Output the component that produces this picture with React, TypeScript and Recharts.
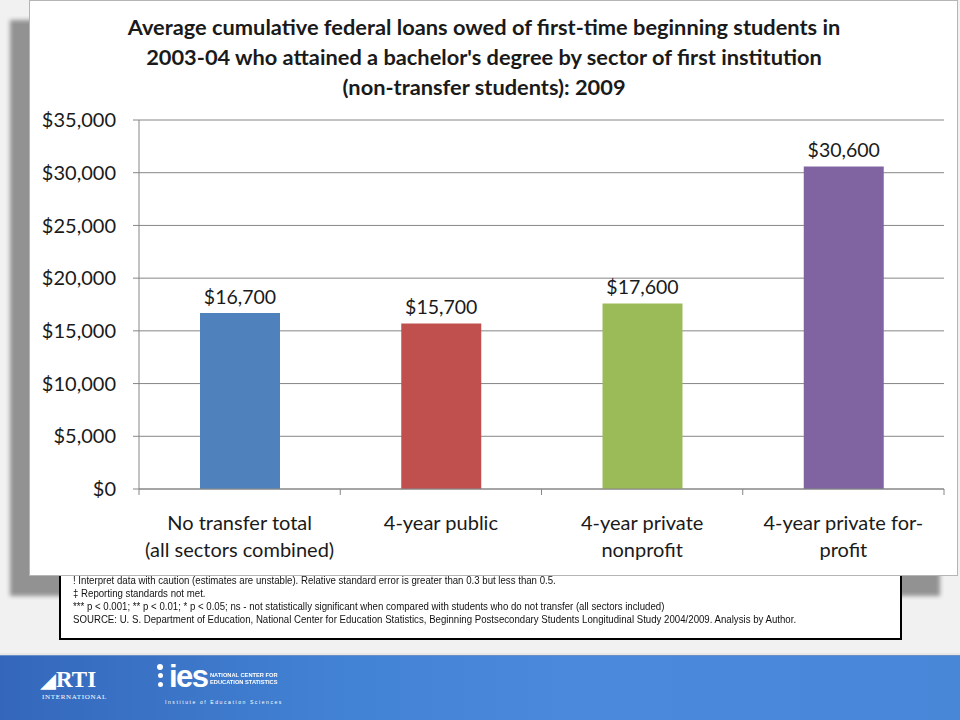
import React from "react";
import { BarChart, Bar, XAxis, YAxis, CartesianGrid, LabelList, Cell } from "recharts";

const categories = [
  ["No transfer total", "(all sectors combined)"],
  ["4-year public"],
  ["4-year private", "nonprofit"],
  ["4-year private for-", "profit"],
];
const loanValues = [16700, 15700, 17600, 30600];
const barColors = ["#4F81BD", "#C0504D", "#9BBB59", "#8064A2"];
const yTicks = [0, 5000, 10000, 15000, 20000, 25000, 30000, 35000];
const titleLines = [
  "Average cumulative federal loans owed of first-time beginning students in",
  "2003-04 who attained a bachelor's degree by sector of first institution",
  "(non-transfer students): 2009",
];
const footnotes = [
  "! Interpret data with caution (estimates are unstable). Relative standard error is greater than 0.3 but less than 0.5.",
  "\u2021 Reporting standards not met.",
  "*** p < 0.001; ** p < 0.01; * p < 0.05; ns - not statistically significant when compared with students who do not transfer (all sectors included)",
  "SOURCE: U. S. Department of Education, National Center for Education Statistics, Beginning Postsecondary Students Longitudinal Study 2004/2009.  Analysis by Author.",
];

const data = categories.map((c, i) => ({ key: c.join(" "), lines: c, value: loanValues[i] }));

const FONT = "Lato, 'Open Sans', sans-serif";
const fmt = (v: number) => "$" + v.toLocaleString("en-US");

const XTick = (props: any) => {
  const { x, y, payload, index } = props;
  const half = payload && payload.offset ? payload.offset : 100.6;
  const lines = data[index] ? data[index].lines : [String(payload.value)];
  return (
    <g>
      <line x1={x - half} x2={x - half} y1={y} y2={y + 6} stroke="#868686" />
      {index === data.length - 1 && <line x1={x + half} x2={x + half} y1={y} y2={y + 6} stroke="#868686" />}
      {lines.map((l: string, k: number) => (
        <text key={k} x={x} y={y + 33 + k * 27} textAnchor="middle" dominantBaseline="central" fontFamily={FONT} fontSize={20} fill="#1a1a1a">
          {l}
        </text>
      ))}
    </g>
  );
};

const Dot = ({ top, size }: { top: number; size: number }) => (
  <div style={{ position: "absolute", left: 160 - size / 2, top, width: size, height: size, borderRadius: "50%", background: "#fff" }} />
);

export default function App() {
  return (
    <div style={{ position: "absolute", left: 0, top: 0, width: 960, height: 720, background: "#f1f1f1", overflow: "hidden" }}>
      {/* shadow */}
      <div style={{ position: "absolute", left: 10, top: 20, width: 930, height: 576, background: "#929292", filter: "blur(2px)" }} />
      {/* footnote box */}
      <div style={{ position: "absolute", left: 59, top: 540, width: 839, height: 96, background: "#ffffff", border: "2px solid #000" }} />
      <div style={{ position: "absolute", left: 73, top: 574, fontFamily: "'Liberation Sans', sans-serif", fontSize: 10, lineHeight: "13px", color: "#111", whiteSpace: "nowrap", transform: "scaleX(0.965)", transformOrigin: "0 0" }}>
        {footnotes.map((f, i) => (
          <div key={i}>{f}</div>
        ))}
      </div>
      {/* chart box */}
      <div style={{ position: "absolute", left: 29, top: 0, width: 927, height: 574, background: "#ffffff", border: "1px solid #b5b5b5" }}>
        <div style={{ position: "absolute", left: -46, top: 11, width: 1000, textAlign: "center", fontFamily: FONT, fontWeight: 700, fontSize: 21.8, lineHeight: "30px", color: "#1a1a1a" }}>
          {titleLines.map((t, i) => (
            <div key={i}>{t}</div>
          ))}
        </div>
        <div style={{ position: "absolute", left: 0, top: 0 }}>
          <BarChart width={927} height={574} data={data} margin={{ top: 119, right: 13, left: 0, bottom: 0 }}>
            <CartesianGrid vertical={false} stroke="#868686" />
            <XAxis dataKey="key" height={86} tickLine={false} tickSize={0} tickMargin={0} axisLine={{ stroke: "#868686" }} tick={<XTick />} interval={0} />
            <YAxis
              width={109}
              domain={[0, 35000]}
              ticks={yTicks}
              tickFormatter={fmt}
              tickSize={6}
              tickMargin={17}
              axisLine={{ stroke: "#868686" }}
              tickLine={{ stroke: "#868686" }}
              tick={{ fontFamily: FONT, fontSize: 20, fill: "#1a1a1a" }}
            />
            <Bar dataKey="value" barSize={80} isAnimationActive={false}>
              {data.map((d, i) => (
                <Cell key={d.key} fill={barColors[i]} />
              ))}
              <LabelList dataKey="value" position="top" offset={9} formatter={(v: any) => fmt(Number(v))} style={{ fontFamily: FONT, fontSize: 19.5, fill: "#1a1a1a" }} />
            </Bar>
          </BarChart>
        </div>
      </div>
      {/* footer */}
      <div style={{ position: "absolute", left: 0, top: 653, width: 960, height: 2, background: "#e8e8e8" }} />
      <div style={{ position: "absolute", left: 0, top: 655, width: 960, height: 65, background: "linear-gradient(90deg, #3467bb 0%, #4282d4 35%, #4a89dc 60%, #4886d8 100%)", borderTop: "1px solid #6a8fc8" }}>
        <div style={{ position: "absolute", left: 41, top: 13, color: "#fff", fontFamily: "'Liberation Serif', serif", fontWeight: 700, fontSize: 23, lineHeight: "22px" }}>
          <span style={{ fontSize: 19 }}>{"\u25E2"}</span>RTI
        </div>
        <div style={{ position: "absolute", left: 42, top: 37, color: "#fff", fontFamily: "'Liberation Serif', serif", fontSize: 7, letterSpacing: 0.7 }}>INTERNATIONAL</div>
        <Dot top={8} size={6} />
        <Dot top={17} size={5} />
        <Dot top={26} size={5} />
        <div style={{ position: "absolute", left: 169, top: 5, color: "#fff", fontFamily: "'Liberation Sans', sans-serif", fontWeight: 700, fontSize: 31, lineHeight: "32px", letterSpacing: -1.5 }}>ies</div>
        <div style={{ position: "absolute", left: 210, top: 16, color: "#fff", fontFamily: "'Liberation Sans', sans-serif", fontWeight: 700, fontSize: 6, lineHeight: "7px", transform: "scaleX(0.95)", transformOrigin: "0 0" }}>
          <div>NATIONAL CENTER FOR</div>
          <div>EDUCATION STATISTICS</div>
        </div>
        <div style={{ position: "absolute", left: 165, top: 43, color: "#fff", fontFamily: "'Liberation Sans', sans-serif", fontSize: 5, letterSpacing: 1.6 }}>Institute of Education Sciences</div>
      </div>
    </div>
  );
}
